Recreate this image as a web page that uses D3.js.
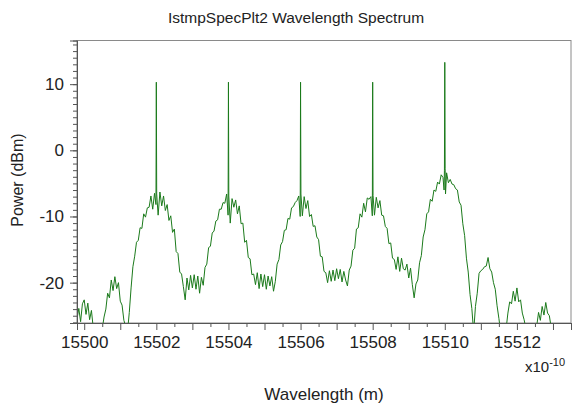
<!DOCTYPE html>
<html><head><meta charset="utf-8">
<script src="https://cdn.jsdelivr.net/npm/d3@7"></script>
<style>body{margin:0;background:#fff}svg{display:block}text{font-family:"Liberation Sans",Arial,sans-serif;fill:#222}</style>
</head><body><svg id="c" width="572" height="405"></svg>
<script>
const title = "IstmpSpecPlt2 Wavelength Spectrum";
const xLabel = "Wavelength (m)";
const yLabel = "Power (dBm)";
const xTickLabels = [15500, 15502, 15504, 15506, 15508, 15510, 15512];
const yTickLabels = [-20, -10, 0, 10];
const xDomain = [15499.8, 15513.5];
const yDomain = [-26.1, 16.6];

// wavelength in units of 1e-10 m
const wavelength = [
15499.80,15499.85,15499.90,15499.95,15500.00,15500.05,15500.10,15500.15,15500.20,15500.25,
15500.30,15500.35,15500.40,15500.45,15500.50,15500.55,15500.60,15500.65,15500.70,15500.75,
15500.80,15500.85,15500.90,15500.95,15501.00,15501.05,15501.10,15501.15,15501.20,15501.25,
15501.30,15501.35,15501.40,15501.45,15501.50,15501.55,15501.60,15501.65,15501.70,15501.75,
15501.80,15501.85,15501.90,15501.95,15501.99,15502.00,15502.01,15502.05,15502.10,15502.15,
15502.20,15502.25,15502.30,15502.35,15502.40,15502.45,15502.50,15502.55,15502.60,15502.65,
15502.70,15502.75,15502.80,15502.85,15502.90,15502.95,15503.00,15503.05,15503.10,15503.15,
15503.20,15503.25,15503.30,15503.35,15503.40,15503.45,15503.50,15503.55,15503.60,15503.65,
15503.70,15503.75,15503.80,15503.85,15503.90,15503.95,15503.99,15504.00,15504.01,15504.05,
15504.10,15504.15,15504.20,15504.25,15504.30,15504.35,15504.40,15504.45,15504.50,15504.55,
15504.60,15504.65,15504.70,15504.75,15504.80,15504.85,15504.90,15504.95,15505.00,15505.05,
15505.10,15505.15,15505.20,15505.25,15505.30,15505.35,15505.40,15505.45,15505.50,15505.55,
15505.60,15505.65,15505.70,15505.75,15505.80,15505.85,15505.90,15505.95,15505.99,15506.00,
15506.01,15506.05,15506.10,15506.15,15506.20,15506.25,15506.30,15506.35,15506.40,15506.45,
15506.50,15506.55,15506.60,15506.65,15506.70,15506.75,15506.80,15506.85,15506.90,15506.95,
15507.00,15507.05,15507.10,15507.15,15507.20,15507.25,15507.30,15507.35,15507.40,15507.45,
15507.50,15507.55,15507.60,15507.65,15507.70,15507.75,15507.80,15507.85,15507.90,15507.95,
15507.99,15508.00,15508.01,15508.05,15508.10,15508.15,15508.20,15508.25,15508.30,15508.35,
15508.40,15508.45,15508.50,15508.55,15508.60,15508.65,15508.70,15508.75,15508.80,15508.85,
15508.90,15508.95,15509.00,15509.05,15509.10,15509.15,15509.20,15509.25,15509.30,15509.35,
15509.40,15509.45,15509.50,15509.55,15509.60,15509.65,15509.70,15509.75,15509.80,15509.85,
15509.90,15509.95,15509.98,15509.99,15510.00,15510.01,15510.02,15510.05,15510.10,15510.15,
15510.20,15510.25,15510.30,15510.35,15510.40,15510.45,15510.50,15510.55,15510.60,15510.65,
15510.70,15510.75,15510.80,15510.85,15510.90,15510.95,15511.00,15511.05,15511.10,15511.15,
15511.20,15511.25,15511.30,15511.35,15511.40,15511.45,15511.50,15511.55,15511.60,15511.65,
15511.70,15511.75,15511.80,15511.85,15511.90,15511.95,15512.00,15512.05,15512.10,15512.15,
15512.20,15512.25,15512.30,15512.35,15512.40,15512.45,15512.50,15512.55,15512.60,15512.65,
15512.70,15512.75,15512.80,15512.85,15512.90,15512.95,15513.00,15513.05,15513.50
];
// power in dBm
const power = [
-25.5,-23.9,-25.9,-23.2,-22.6,-24.8,-23.1,-25.6,-24.2,-26.8,
-28.0,-29.0,-29.0,-28.0,-27.0,-25.2,-24.0,-21.6,-22.3,-19.6,
-21.2,-19.1,-20.9,-20.0,-22.8,-23.4,-25.7,-26.6,-27.5,-24.5,
-20.8,-17.6,-16.0,-13.9,-13.6,-11.7,-11.8,-9.6,-10.1,-8.7,
-8.6,-6.9,-8.9,-6.5,-8.2,10.3,-6.6,-9.8,-6.3,-8.4,
-6.9,-9.1,-8.2,-10.6,-9.9,-12.4,-11.9,-15.3,-15.6,-18.4,
-18.7,-20.6,-22.6,-19.3,-21.1,-18.9,-20.8,-18.8,-21.0,-19.0,
-21.6,-19.2,-20.4,-17.7,-17.2,-14.7,-14.5,-12.5,-12.2,-10.7,
-10.5,-8.9,-8.9,-7.9,-8.0,-6.6,-9.8,10.3,-6.9,-11.0,
-7.3,-8.6,-7.5,-9.6,-8.4,-11.1,-11.0,-13.9,-13.6,-16.2,
-16.4,-18.8,-18.7,-20.3,-18.5,-20.9,-18.7,-20.6,-18.8,-21.0,
-19.0,-20.5,-19.1,-21.3,-19.8,-17.2,-16.5,-14.3,-13.8,-12.1,
-12.0,-10.3,-10.4,-8.7,-8.5,-7.9,-7.6,-6.9,-10.0,10.3,
-6.6,-9.9,-7.0,-8.8,-7.6,-10.0,-9.7,-11.5,-11.4,-13.1,
-13.5,-16.0,-16.1,-18.3,-18.5,-20.0,-18.2,-19.8,-18.1,-19.7,
-17.9,-19.4,-18.0,-19.9,-18.3,-19.6,-20.5,-18.1,-17.5,-15.1,
-14.8,-11.9,-11.7,-9.6,-10.1,-8.0,-9.3,-7.2,-7.4,-7.0,
-9.9,10.3,-6.8,-9.8,-7.1,-8.7,-7.6,-9.8,-9.9,-11.5,
-11.8,-14.1,-14.0,-16.3,-16.5,-18.0,-16.1,-18.3,-16.3,-17.9,
-18.1,-17.2,-19.3,-17.8,-20.3,-22.3,-20.2,-19.6,-17.0,-15.9,
-13.1,-12.0,-9.6,-9.3,-7.4,-7.7,-6.0,-6.2,-4.8,-5.1,
-3.7,-4.1,-6.0,-3.0,13.3,-2.8,-6.6,-3.4,-4.9,-4.4,
-5.1,-5.2,-5.8,-6.0,-7.8,-8.3,-11.1,-12.9,-16.3,-18.4,
-21.8,-23.9,-27.5,-23.6,-21.6,-18.6,-18.2,-18.0,-17.6,-17.5,
-16.2,-17.9,-18.4,-20.0,-21.0,-23.5,-25.4,-27.5,-28.5,-28.5,
-27.0,-24.6,-22.9,-23.2,-21.3,-22.8,-20.8,-22.9,-22.6,-24.6,
-25.6,-27.0,-28.5,-29.0,-29.0,-28.5,-27.5,-26.5,-24.5,-25.7,
-23.6,-24.9,-23.0,-24.6,-25.0,-26.8,-28.5,-29.0,-29.0
];

const W = 572, H = 405;
const m = {left: 77, top: 40.5, right: 571, bottom: 323};
const svg = d3.select("#c");
const x = d3.scaleLinear().domain(xDomain).range([m.left, m.right]);
const y = d3.scaleLinear().domain(yDomain).range([m.bottom, m.top]);

// title
svg.append("text").attr("x", 296).attr("y", 23).attr("text-anchor", "middle")
  .style("font-size", "15.5px").text(title);

// clip
svg.append("defs").append("clipPath").attr("id", "plotclip").append("rect")
  .attr("x", m.left).attr("y", m.top).attr("width", m.right - m.left).attr("height", m.bottom - m.top);

// frame
svg.append("rect").attr("x", m.left).attr("y", m.top)
  .attr("width", m.right - m.left).attr("height", m.bottom - m.top)
  .attr("fill", "none").attr("stroke", "#8a8a8a").attr("stroke-width", 1);

// data line
const data = wavelength.map((w, i) => [w, power[i]]);
const line = d3.line().x(d => x(d[0])).y(d => y(d[1]));
svg.append("path").datum(data).attr("clip-path", "url(#plotclip)")
  .attr("fill", "none").attr("stroke", "#1b7a1b").attr("stroke-width", 1)
  .attr("stroke-linejoin", "miter").attr("d", line);

// y axis: minor ticks every 1 dB, labels every 10
const yAxisMinor = d3.axisLeft(y).tickValues(d3.range(-26, 17, 1)).tickSize(4).tickFormat("");
const gyMinor = svg.append("g").attr("transform", `translate(${m.left},0)`).call(yAxisMinor);
const yAxisMajor = d3.axisLeft(y).tickValues(yTickLabels).tickSize(7).tickPadding(6).tickFormat(d3.format("d"));
const gy = svg.append("g").attr("transform", `translate(${m.left},0)`).call(yAxisMajor);
[gyMinor, gy].forEach(g => {
  g.select(".domain").attr("stroke", "#555");
  g.selectAll(".tick line").attr("stroke", "#555");
});
gy.selectAll(".tick text").style("font-size", "17px").attr("fill", "#222").attr("font-family", null)
  .text(d => d < 0 ? "-" + Math.abs(d) : d);

// x axis: ticks every 0.5, longer at integers, labels every 2
const xMinorVals = d3.range(15500, 15513.6, 0.5).filter(v => v % 1 !== 0);
const xMajorVals = d3.range(15500, 15514, 1);
const gxMinor = svg.append("g").attr("transform", `translate(0,${m.bottom})`)
  .call(d3.axisBottom(x).tickValues(xMinorVals).tickSize(4).tickFormat(""));
const gx = svg.append("g").attr("transform", `translate(0,${m.bottom})`)
  .call(d3.axisBottom(x).tickValues(xMajorVals).tickSize(7).tickPadding(6)
    .tickFormat(d => xTickLabels.includes(d) ? d3.format("d")(d) : ""));
[gxMinor, gx].forEach(g => {
  g.select(".domain").attr("stroke", "#555");
  g.selectAll(".tick line").attr("stroke", "#555");
});
gx.selectAll(".tick text").style("font-size", "17px").attr("fill", "#222").attr("font-family", null);

// exponent
const ex = svg.append("text").attr("x", 525).attr("y", 372).style("font-size", "15px");
ex.append("tspan").text("x10");
ex.append("tspan").attr("dy", -6).style("font-size", "11px").text("-10");

// axis titles
svg.append("text").attr("x", 324).attr("y", 400).attr("text-anchor", "middle")
  .style("font-size", "17px").text(xLabel);
svg.append("text").attr("transform", "translate(23,180) rotate(-90)").attr("text-anchor", "middle")
  .style("font-size", "16px").text(yLabel);
</script></body></html>
